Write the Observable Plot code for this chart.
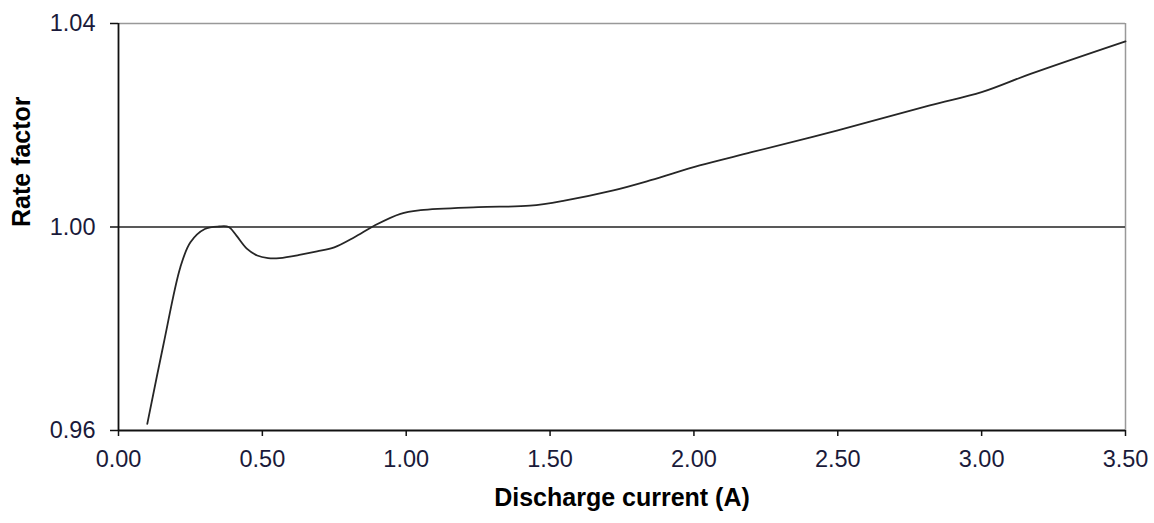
<!DOCTYPE html>
<html>
<head>
<meta charset="utf-8">
<script src="https://cdn.jsdelivr.net/npm/d3@7"></script>
<script src="https://cdn.jsdelivr.net/npm/@observablehq/plot@0.6"></script>
<style>
  html, body { margin: 0; padding: 0; background: #fff; }
</style>
</head>
<body>
<div id="chart"></div>
<script>
// Discharge current (A)
const current = [0.10, 0.157, 0.215, 0.25, 0.30, 0.35, 0.383, 0.41, 0.447, 0.482, 0.52, 0.56, 0.633, 0.69, 0.75, 0.82, 0.89, 0.98, 1.05, 1.25, 1.43, 1.55, 1.72, 1.85, 2.02, 2.20, 2.50, 2.82, 3.00, 3.17, 3.50];
// Rate factor
const rate = [0.9613, 0.9771, 0.9921, 0.9970, 0.9996, 1.0001, 1.0000, 0.9983, 0.9957, 0.9944, 0.9939, 0.9939, 0.99455, 0.9952, 0.9960, 0.9980, 1.0003, 1.0026, 1.0033, 1.0039, 1.0042, 1.0052, 1.0072, 1.0092, 1.0121, 1.0147, 1.0190, 1.0239, 1.0265, 1.0301, 1.0365];

const xTicks = [0, 0.5, 1.0, 1.5, 2.0, 2.5, 3.0, 3.5];
const yTicks = [0.96, 1.00, 1.04];
const xLabel = "Discharge current (A)";
const yLabel = "Rate factor";

const data = current.map((c, i) => ({current: c, rate: rate[i]}));

const chart = Plot.plot({
  width: 1154,
  height: 523,
  marginLeft: 118,
  marginRight: 29,
  marginTop: 23,
  marginBottom: 93,
  style: {fontFamily: "'Liberation Sans', Arial, sans-serif", fontSize: "23px", background: "#fff", color: "#1a1a3a"},
  x: {domain: [0, 3.5]},
  y: {domain: [0.96, 1.04]},
  marks: [
    Plot.ruleY([1.04], {stroke: "#999", strokeWidth: 1.5}),
    Plot.ruleX([3.5], {stroke: "#999", strokeWidth: 1.5}),
    Plot.ruleY([1.00], {stroke: "#222", strokeWidth: 1.5}),
    Plot.axisX({ticks: xTicks, tickFormat: d3.format(".2f"), tickSize: 6, tickPadding: 14, stroke: "#111", strokeWidth: 1.5, label: null, fontSize: 23.5}),
    Plot.axisY({ticks: yTicks, tickFormat: d3.format(".2f"), tickSize: 8, tickPadding: 15, stroke: "#111", strokeWidth: 1.5, label: null, fontSize: 23.5}),
    Plot.ruleX([0], {stroke: "#111", strokeWidth: 1.8}),
    Plot.ruleY([0.96], {stroke: "#111", strokeWidth: 1.8}),
    Plot.line(data, {x: "current", y: "rate", curve: "catmull-rom", stroke: "#262626", strokeWidth: 1.8}),
    Plot.text([xLabel], {frameAnchor: "bottom", dy: 75, fontWeight: "bold", fontSize: 25, fill: "#000"}),
    Plot.text([yLabel], {frameAnchor: "left", dx: -97, rotate: -90, fontWeight: "bold", fontSize: 25, fill: "#000"})
  ]
});

document.getElementById("chart").appendChild(chart);
</script>
</body>
</html>
